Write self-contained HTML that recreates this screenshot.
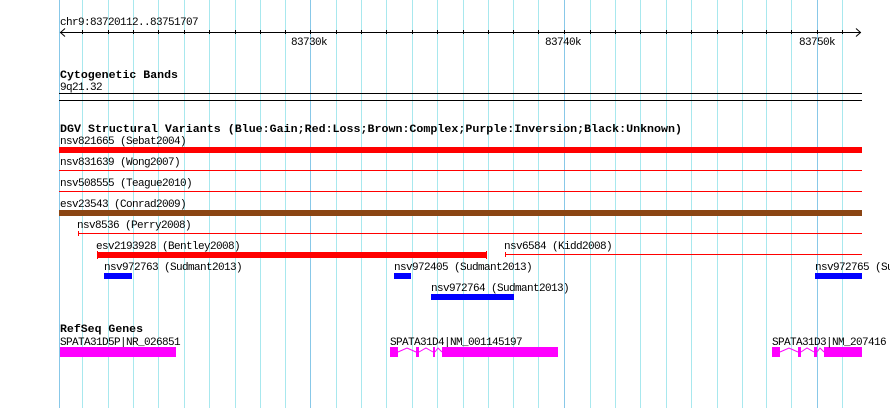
<!DOCTYPE html>
<html><head><meta charset="utf-8"><style>
html,body{margin:0;padding:0;background:#fff;width:890px;height:408px;overflow:hidden}
svg{display:block}
text{font-family:"Liberation Mono",monospace;font-size:11px;letter-spacing:-0.6px;fill:#000}
.b{font-weight:bold;font-size:11px;letter-spacing:0}
</style></head><body>
<svg width="890" height="408" viewBox="0 0 890 408" xmlns="http://www.w3.org/2000/svg" shape-rendering="crispEdges">
<g stroke="#a8e8ee" stroke-width="1">
<line x1="82.5" y1="0" x2="82.5" y2="408"/><line x1="108.5" y1="0" x2="108.5" y2="408"/><line x1="133.5" y1="0" x2="133.5" y2="408"/><line x1="158.5" y1="0" x2="158.5" y2="408"/><line x1="184.5" y1="0" x2="184.5" y2="408"/><line x1="209.5" y1="0" x2="209.5" y2="408"/><line x1="235.5" y1="0" x2="235.5" y2="408"/><line x1="260.5" y1="0" x2="260.5" y2="408"/><line x1="285.5" y1="0" x2="285.5" y2="408"/>
<line x1="336.5" y1="0" x2="336.5" y2="408"/><line x1="361.5" y1="0" x2="361.5" y2="408"/><line x1="386.5" y1="0" x2="386.5" y2="408"/><line x1="412.5" y1="0" x2="412.5" y2="408"/><line x1="437.5" y1="0" x2="437.5" y2="408"/><line x1="463.5" y1="0" x2="463.5" y2="408"/><line x1="488.5" y1="0" x2="488.5" y2="408"/><line x1="513.5" y1="0" x2="513.5" y2="408"/><line x1="538.5" y1="0" x2="538.5" y2="408"/>
<line x1="590.5" y1="0" x2="590.5" y2="408"/><line x1="615.5" y1="0" x2="615.5" y2="408"/><line x1="640.5" y1="0" x2="640.5" y2="408"/><line x1="666.5" y1="0" x2="666.5" y2="408"/><line x1="691.5" y1="0" x2="691.5" y2="408"/><line x1="717.5" y1="0" x2="717.5" y2="408"/><line x1="742.5" y1="0" x2="742.5" y2="408"/><line x1="766.5" y1="0" x2="766.5" y2="408"/><line x1="791.5" y1="0" x2="791.5" y2="408"/>
<line x1="842.5" y1="0" x2="842.5" y2="408"/>
</g>
<g stroke="#88c8e8" stroke-width="1">
<line x1="59.5" y1="0" x2="59.5" y2="408"/><line x1="310.5" y1="0" x2="310.5" y2="408"/><line x1="564.5" y1="0" x2="564.5" y2="408"/><line x1="817.5" y1="0" x2="817.5" y2="408"/>
</g>
<text x="60" y="25">chr9:83720112..83751707</text>
<g stroke="#000" stroke-width="1" fill="none">
<line x1="60" y1="32.5" x2="861" y2="32.5"/>
<polyline points="65,28.5 60.5,32.5 65,36.5" shape-rendering="auto"/>
<polyline points="856,28.5 860.5,32.5 856,36.5" shape-rendering="auto"/>
<path d="M82.5 30v4M108.5 30v4M133.5 30v4M158.5 30v4M184.5 30v4M209.5 30v4M235.5 30v4M260.5 30v4M285.5 30v4M310.5 30v4M336.5 30v4M361.5 30v4M386.5 30v4M412.5 30v4M437.5 30v4M463.5 30v4M488.5 30v4M513.5 30v4M538.5 30v4M564.5 30v4M590.5 30v4M615.5 30v4M640.5 30v4M666.5 30v4M691.5 30v4M717.5 30v4M742.5 30v4M766.5 30v4M791.5 30v4M817.5 30v4M842.5 30v4"/>
</g>
<text x="291" y="45">83730k</text>
<text x="545" y="45">83740k</text>
<text x="799" y="45">83750k</text>
<text class="b" x="60" y="78" textLength="118" lengthAdjust="spacingAndGlyphs">Cytogenetic Bands</text>
<text x="60" y="90">9q21.32</text>
<rect x="59" y="93" width="803" height="1" fill="#000"/>
<rect x="59" y="100" width="803" height="1" fill="#000"/>
<text class="b" x="60" y="132" textLength="622" lengthAdjust="spacingAndGlyphs">DGV Structural Variants (Blue:Gain;Red:Loss;Brown:Complex;Purple:Inversion;Black:Unknown)</text>
<text x="60" y="144">nsv821665 (Sebat2004)</text>
<rect x="59" y="147" width="803" height="6" fill="#ff0000"/>
<text x="60" y="165">nsv831639 (Wong2007)</text>
<rect x="59" y="170" width="803" height="1" fill="#ff0000"/>
<text x="60" y="186">nsv508555 (Teague2010)</text>
<rect x="59" y="191" width="803" height="1" fill="#ff0000"/>
<text x="60" y="207">esv23543 (Conrad2009)</text>
<rect x="59" y="210" width="803" height="6" fill="#8b4513"/>
<text x="77" y="228">nsv8536 (Perry2008)</text>
<rect x="78" y="233" width="784" height="1" fill="#ff0000"/>
<rect x="78" y="231" width="1" height="5" fill="#ff0000"/>
<text x="96" y="249">esv2193928 (Bentley2008)</text>
<rect x="97" y="252" width="389" height="6" fill="#ff0000"/>
<rect x="97" y="251" width="1" height="8" fill="#ff0000"/>
<rect x="486" y="251" width="1" height="8" fill="#ff0000"/>
<text x="504" y="249">nsv6584 (Kidd2008)</text>
<rect x="505" y="254" width="357" height="1" fill="#ff0000"/>
<rect x="505" y="252" width="1" height="5" fill="#ff0000"/>
<text x="104" y="270">nsv972763 (Sudmant2013)</text>
<rect x="104" y="273" width="28" height="6" fill="#0000ff"/>
<text x="394" y="270">nsv972405 (Sudmant2013)</text>
<rect x="394" y="273" width="17" height="6" fill="#0000ff"/>
<text x="815" y="270">nsv972765 (Sudmant2013)</text>
<rect x="815" y="273" width="47" height="6" fill="#0000ff"/>
<text x="431" y="291">nsv972764 (Sudmant2013)</text>
<rect x="431" y="294" width="83" height="6" fill="#0000ff"/>
<text class="b" x="60" y="332" textLength="83" lengthAdjust="spacingAndGlyphs">RefSeq Genes</text>
<text x="60" y="345">SPATA31D5P|NR_026851</text>
<rect x="60" y="347" width="116" height="10" fill="#ff00ff"/>
<text x="390" y="345">SPATA31D4|NM_001145197</text>
<g fill="#ff00ff">
<rect x="390" y="347" width="8" height="10"/><rect x="416" y="347" width="3" height="10"/><rect x="433" y="347" width="2" height="10"/><rect x="442" y="347" width="116" height="10"/>
<rect x="772" y="347" width="8" height="10"/><rect x="798" y="347" width="3" height="10"/><rect x="814" y="347" width="3" height="10"/><rect x="824" y="347" width="38" height="10"/>
</g>
<g stroke="#ff00ff" fill="none" stroke-width="1" shape-rendering="auto">
<polyline points="398,352 407,348 416,352"/><polyline points="419,352 426,348 433,352"/><polyline points="435,352 438,348 442,352"/>
<polyline points="780,352 789,348 798,352"/><polyline points="801,352 807,348 814,352"/><polyline points="817,352 820,348 824,352"/>
</g>
<text x="772" y="345">SPATA31D3|NM_207416</text>
</svg>
</body></html>
